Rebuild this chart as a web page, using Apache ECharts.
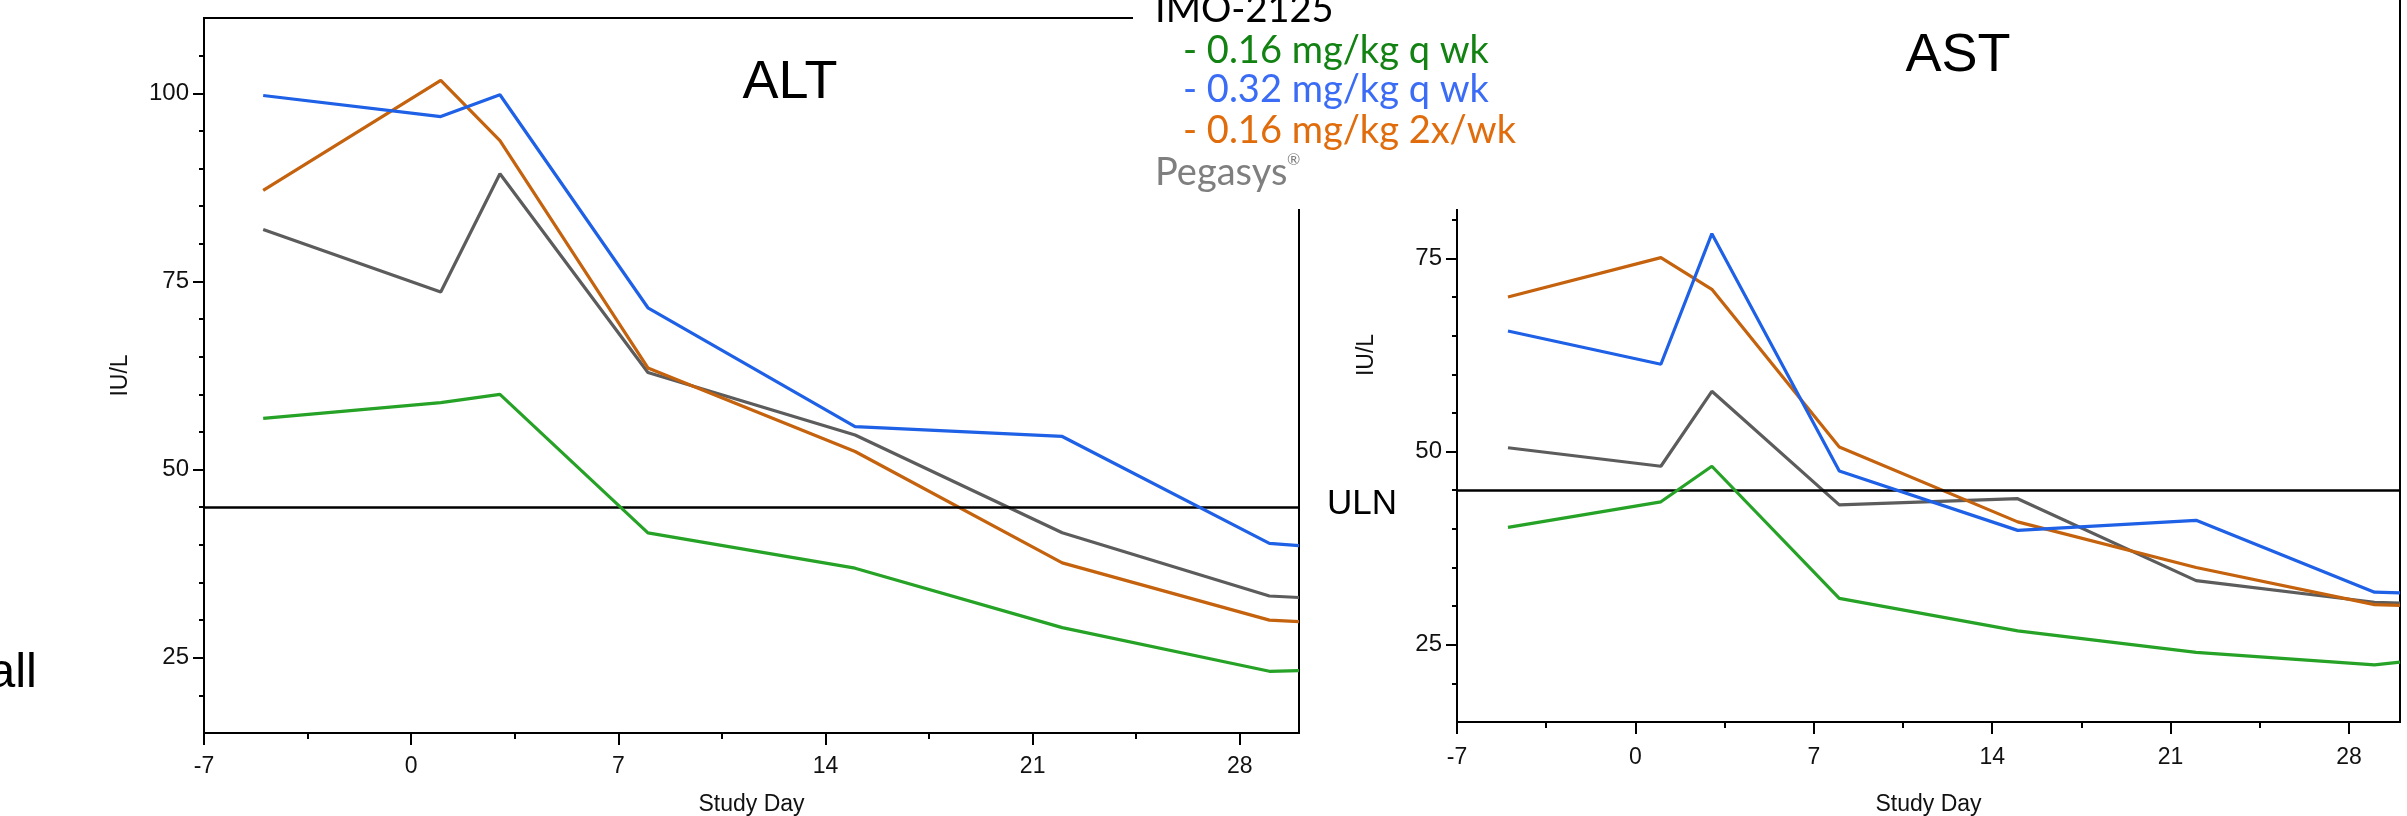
<!DOCTYPE html>
<html>
<head>
<meta charset="utf-8">
<script src="https://cdn.jsdelivr.net/npm/echarts@6/dist/echarts.min.js"></script>
<style>
  html, body { margin: 0; padding: 0; background: #fff; }
  #chart { width: 2407px; height: 816px; }
</style>
</head>
<body>
<div id="chart"></div>
<script>
// Study days at which the group means were taken (last entry is the right edge of the axis)
const studyDays = [-5, 1, 3, 8, 15, 22, 29, 30];
const dayTicks = [-7, 0, 7, 14, 21, 28];
const dayMinorTicks = [-3.5, 3.5, 10.5, 17.5, 24.5];
const iuTicks = [25, 50, 75, 100];
const iuMinorTicks = [20, 30, 35, 40, 45, 55, 60, 65, 70, 80, 85, 90, 95, 105];
const ULN = 45;

// ALT (IU/L)
const altLowWeekly  = [56.8, 58.9, 60.0, 41.6, 36.9, 29.0, 23.2, 23.3];
const altHighWeekly = [99.7, 96.9, 99.8, 71.5, 55.7, 54.4, 40.2, 39.9];
const altTwiceWeek  = [87.1, 101.7, 93.7, 63.5, 52.4, 37.6, 30.0, 29.8];
const altPegasys    = [81.9, 73.6, 89.3, 62.9, 54.6, 41.6, 33.2, 33.0];

// AST (IU/L)
const astLowWeekly  = [40.2, 43.5, 48.1, 31.0, 26.8, 24.0, 22.4, 22.75];
const astHighWeekly = [65.6, 61.3, 78.2, 47.5, 39.8, 41.1, 31.8, 31.7];
const astTwiceWeek  = [70.0, 75.1, 71.0, 50.6, 40.9, 35.0, 30.2, 30.1];
const astPegasys    = [50.5, 48.1, 57.8, 43.1, 43.9, 33.3, 30.5, 30.4];

const groupNames = ['- 0.16 mg/kg q wk', '- 0.32 mg/kg q wk', '- 0.16 mg/kg 2x/wk', 'Pegasys'];
const lineColors = ['#26a226', '#1e60e6', '#c4620e', '#5c5c5c'];
const legendColors = ['#128212', '#3b6cf5', '#e06c0c', '#7f7f7f'];

const AX_FONT = 'Liberation Sans';
const LEG_FONT = 'Lato';
const black = { color: '#000', width: 2 };

function dayAxes(gridIndex, labelMargin, nameGap) {
  return [
    {
      type: 'value', gridIndex, position: 'bottom', min: -7, max: 30,
      name: 'Study Day', nameLocation: 'middle', nameGap,
      nameTextStyle: { fontFamily: AX_FONT, fontSize: 23, color: '#111' },
      axisLine: { show: true, onZero: false, lineStyle: black },
      axisTick: { show: true, customValues: dayTicks, length: 12, lineStyle: black },
      axisLabel: { customValues: dayTicks, margin: labelMargin, fontFamily: AX_FONT, fontSize: 23, color: '#111' },
      splitLine: { show: false }
    },
    {
      type: 'value', gridIndex, position: 'bottom', min: -7, max: 30,
      axisLine: { show: false, onZero: false },
      axisTick: { show: true, customValues: dayMinorTicks, length: 6, lineStyle: black },
      axisLabel: { show: false },
      splitLine: { show: false }
    }
  ];
}

function iuAxes(gridIndex, nameGap) {
  return [
    {
      type: 'value', gridIndex, position: 'left', min: 15, max: 110,
      name: 'IU/L', nameLocation: 'middle', nameRotate: 90, nameGap,
      nameTextStyle: { fontFamily: AX_FONT, fontSize: 23, color: '#111' },
      axisLine: { show: true, onZero: false, lineStyle: black },
      axisTick: { show: true, customValues: iuTicks, length: 11, lineStyle: black },
      axisLabel: { customValues: iuTicks, margin: 15, fontFamily: AX_FONT, fontSize: 24, color: '#111' },
      splitLine: { show: false }
    },
    {
      type: 'value', gridIndex, position: 'left', min: 15, max: 110,
      axisLine: { show: false, onZero: false },
      axisTick: { show: true, customValues: iuMinorTicks, length: 5, lineStyle: black },
      axisLabel: { show: false },
      splitLine: { show: false }
    }
  ];
}

function pairs(values) {
  return studyDays.map((d, i) => [d, values[i]]);
}

function panelSeries(axisIndex, groups) {
  // draw order: Pegasys, 2x/wk, 0.32, 0.16
  const order = [3, 2, 1, 0];
  return order.map((g, k) => {
    const s = {
      type: 'line', name: groupNames[g],
      xAxisIndex: axisIndex, yAxisIndex: axisIndex,
      data: pairs(groups[g]),
      symbol: 'none', showSymbol: false, smooth: false,
      lineStyle: { color: lineColors[g], width: 3.2 },
      itemStyle: { color: lineColors[g] },
      z: 3 + k, animation: false, silent: true
    };
    if (k === 0) {
      s.markLine = {
        symbol: 'none', silent: true, animation: false,
        label: { show: false },
        lineStyle: { color: '#000', width: 2.5, type: 'solid' },
        data: [{ yAxis: ULN }]
      };
    }
    return s;
  });
}

function txt(text, x, y, size, color, family, align) {
  return {
    type: 'text', x, y, z: 101,
    style: {
      text, fill: color,
      font: size + 'px "' + family + '"',
      fontSize: size, fontFamily: family,
      align: align || 'left', textAlign: align || 'left',
      verticalAlign: 'middle', textVerticalAlign: 'middle'
    }
  };
}

const chart = echarts.init(document.getElementById('chart'), null, { renderer: 'canvas' });

chart.setOption({
  animation: false,
  backgroundColor: '#fff',
  grid: [
    { left: 204, top: 18, width: 1095, height: 715, show: true, borderColor: '#000', borderWidth: 2,
      backgroundColor: 'transparent', containLabel: false, outerBoundsMode: 'none' },
    { left: 1457, top: -12, width: 943, height: 734, show: true, borderColor: '#000', borderWidth: 2,
      backgroundColor: 'transparent', containLabel: false, outerBoundsMode: 'none' }
  ],
  xAxis: [...dayAxes(0, 22, 60), ...dayAxes(1, 24, 71)],
  yAxis: [...iuAxes(0, 72), ...iuAxes(1, 79)],
  series: [
    ...panelSeries(0, [altLowWeekly, altHighWeekly, altTwiceWeek, altPegasys]),
    ...panelSeries(2, [astLowWeekly, astHighWeekly, astTwiceWeek, astPegasys])
  ],
  graphic: [
    // legend panel
    { type: 'rect', z: 100, shape: { x: 1133, y: -5, width: 400, height: 214 }, style: { fill: '#fff' } },
    txt('IMO-2125', 1155, 10, 38, '#000', LEG_FONT),
    txt(groupNames[0], 1183, 51, 38, legendColors[0], LEG_FONT),
    txt(groupNames[1], 1183, 90, 38, legendColors[1], LEG_FONT),
    txt(groupNames[2], 1183, 131, 38, legendColors[2], LEG_FONT),
    txt(groupNames[3], 1155, 173, 38, legendColors[3], LEG_FONT),
    txt('®', 1287, 160, 16, legendColors[3], LEG_FONT),
    // panel titles
    txt('ALT', 790, 83, 54, '#000', AX_FONT, 'center'),
    txt('AST', 1958, 56, 54, '#000', AX_FONT, 'center'),
    txt('ULN', 1327, 504, 35, '#000', AX_FONT),
    txt('all', 37, 673, 49, '#000', AX_FONT, 'right')
  ]
});
</script>
</body>
</html>
